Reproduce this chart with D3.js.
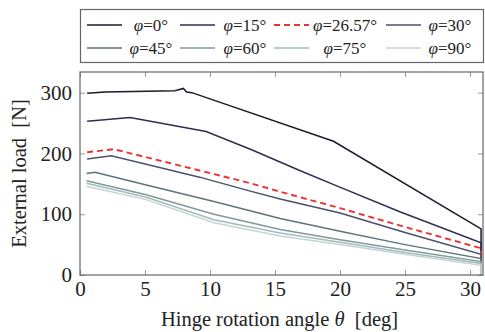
<!DOCTYPE html>
<html>
<head>
<meta charset="utf-8">
<script src="https://cdn.jsdelivr.net/npm/d3@7"></script>
<style>
  body { margin: 0; background: #fff; }
  svg text { font-family: "Liberation Serif", "DejaVu Serif", serif; fill: #222; }
</style>
</head>
<body>
<div id="chart"></div>
<script>
// data: [theta (deg), load (N)]
var phi0  = [[0.55,299],[1.9,301],[7.3,303],[7.95,307],[8.2,301],[8.6,300],[19.5,220],[30.85,76],[30.85,0]];
var phi15 = [[0.55,253],[3.85,259],[9.7,236],[13.2,206],[16.9,172],[19.7,147],[24.6,104],[30.85,53],[30.85,0]];
var phi26 = [[0.55,202],[2.6,207],[9.2,172],[13.1,151],[15.4,137],[20,110],[25,79],[30.85,44],[30.85,0]];
var phi30 = [[0.55,191],[2.4,196],[9.2,161],[13.1,138],[15.4,125],[20,102],[25,70],[30.85,34],[30.85,0]];
var phi45 = [[0.5,167],[1.15,169],[5.1,148],[10.3,121],[15.4,93],[20,72],[25,50],[30.85,27],[30.85,0]];
var phi60 = [[0.5,155],[5.1,132],[10.3,100],[15.4,75],[20,58],[25,41],[30.85,22],[30.85,0]];
var phi75 = [[0.5,151],[5.1,128],[10.3,91],[15.4,69],[20,54],[25,37],[30.85,19],[30.85,0]];
var phi90 = [[0.5,146],[5.1,124],[10.3,86],[15.4,64],[20,50],[25,34],[30.85,16],[30.85,0]];

var names  = ["0", "15", "26.57", "30", "45", "60", "75", "90"];
var series = [phi0, phi15, phi26, phi30, phi45, phi60, phi75, phi90];
var colors = ["#1b1b2b", "#2d2f52", "#ee3030", "#4b5169", "#5f7479", "#80999b", "#a3bbb9", "#c4d5d1"];
var xTicks = [0, 5, 10, 15, 20, 25, 30];
var yTicks = [0, 100, 200, 300];

var margin = {top: 72, right: 2, bottom: 57, left: 80};
var W = 485, H = 332;
var width = W - margin.left - margin.right, height = H - margin.top - margin.bottom;
var serif = "'Liberation Serif', 'Times New Roman', serif";

var svg = d3.select("#chart").append("svg")
    .attr("width", W).attr("height", H)
    .attr("font-family", serif);
var g = svg.append("g")
    .attr("transform", "translate(" + margin.left + "," + margin.top + ")");

var x = d3.scaleLinear().domain([0, 31]).range([0, width]);
var y = d3.scaleLinear().domain([0, 334]).range([height, 0]);

// ticks on all four sides, pointing inward
var tickCol = "#999";
var axes = g.append("g");
axes.append("g").attr("transform", "translate(0," + height + ")")
    .call(d3.axisBottom(x).tickValues(xTicks).tickSize(-5).tickPadding(6).tickFormat(d3.format("d")));
axes.append("g")
    .call(d3.axisTop(x).tickValues(xTicks).tickSize(-5).tickFormat(""));
axes.append("g")
    .call(d3.axisLeft(y).tickValues(yTicks).tickSize(-5).tickPadding(8).tickFormat(d3.format("d")));
axes.append("g").attr("transform", "translate(" + width + ",0)")
    .call(d3.axisRight(y).tickValues(yTicks).tickSize(-5).tickFormat(""));
axes.selectAll(".domain").remove();
axes.selectAll("g").attr("font-family", serif).attr("font-size", 21);
axes.selectAll(".tick line").attr("stroke", tickCol).attr("stroke-width", 1);
axes.selectAll(".tick text")
    .style("font-size", "21px")
    .style("font-family", serif)
    .style("fill", "#222");

// lines
var line = d3.line().x(d => x(d[0])).y(d => y(d[1]));
var plot = g.append("g");
plot.append("clipPath").attr("id", "clip")
    .append("rect").attr("width", width).attr("height", height);
plot.selectAll("path")
    .data(series)
    .enter().append("path")
    .attr("clip-path", "url(#clip)")
    .attr("d", line)
    .attr("fill", "none")
    .attr("stroke", (d, i) => colors[i])
    .attr("stroke-width", (d, i) => i == 2 ? 1.9 : 1.5)
    .attr("stroke-dasharray", (d, i) => i == 2 ? "6,4" : null);

// frame
g.append("rect").attr("width", width).attr("height", height)
    .attr("fill", "none").attr("stroke", "#666").attr("stroke-width", 1.2);

// axis labels
svg.append("text")
    .attr("x", margin.left + width / 2 - 2).attr("y", 326)
    .attr("text-anchor", "middle").style("font-size", "20.5px")
    .html("Hinge rotation angle <tspan font-style='italic'>θ</tspan>&#160;&#160;[deg]");
svg.append("text")
    .attr("transform", "translate(26," + (margin.top + height / 2) + ") rotate(-90)")
    .attr("text-anchor", "middle").style("font-size", "20.5px")
    .html("External load&#160;&#160;[N]");

// legend
var legend = svg.append("g");
legend.append("rect")
    .attr("x", 80.5).attr("y", 9.5).attr("width", 403).attr("height", 53)
    .attr("fill", "#fff").attr("stroke", "#666").attr("stroke-width", 1.2);
var colLine = [87, 180, 274, 386];
var colText = [151, 245, 345, 450];
var rowY = [25, 48];
names.forEach(function(n, i) {
    var c = i % 4, r = Math.floor(i / 4);
    legend.append("line")
        .attr("x1", colLine[c]).attr("x2", colLine[c] + 35)
        .attr("y1", rowY[r]).attr("y2", rowY[r])
        .attr("stroke", colors[i])
        .attr("stroke-width", i == 2 ? 1.9 : 1.5)
        .attr("stroke-dasharray", i == 2 ? "6,4" : null);
    legend.append("text")
        .attr("x", colText[c]).attr("y", rowY[r] + 6)
        .attr("text-anchor", "middle").style("font-size", "17px")
        .html("<tspan font-style='italic'>φ</tspan>=" + n + "°");
});
</script>
</body>
</html>
